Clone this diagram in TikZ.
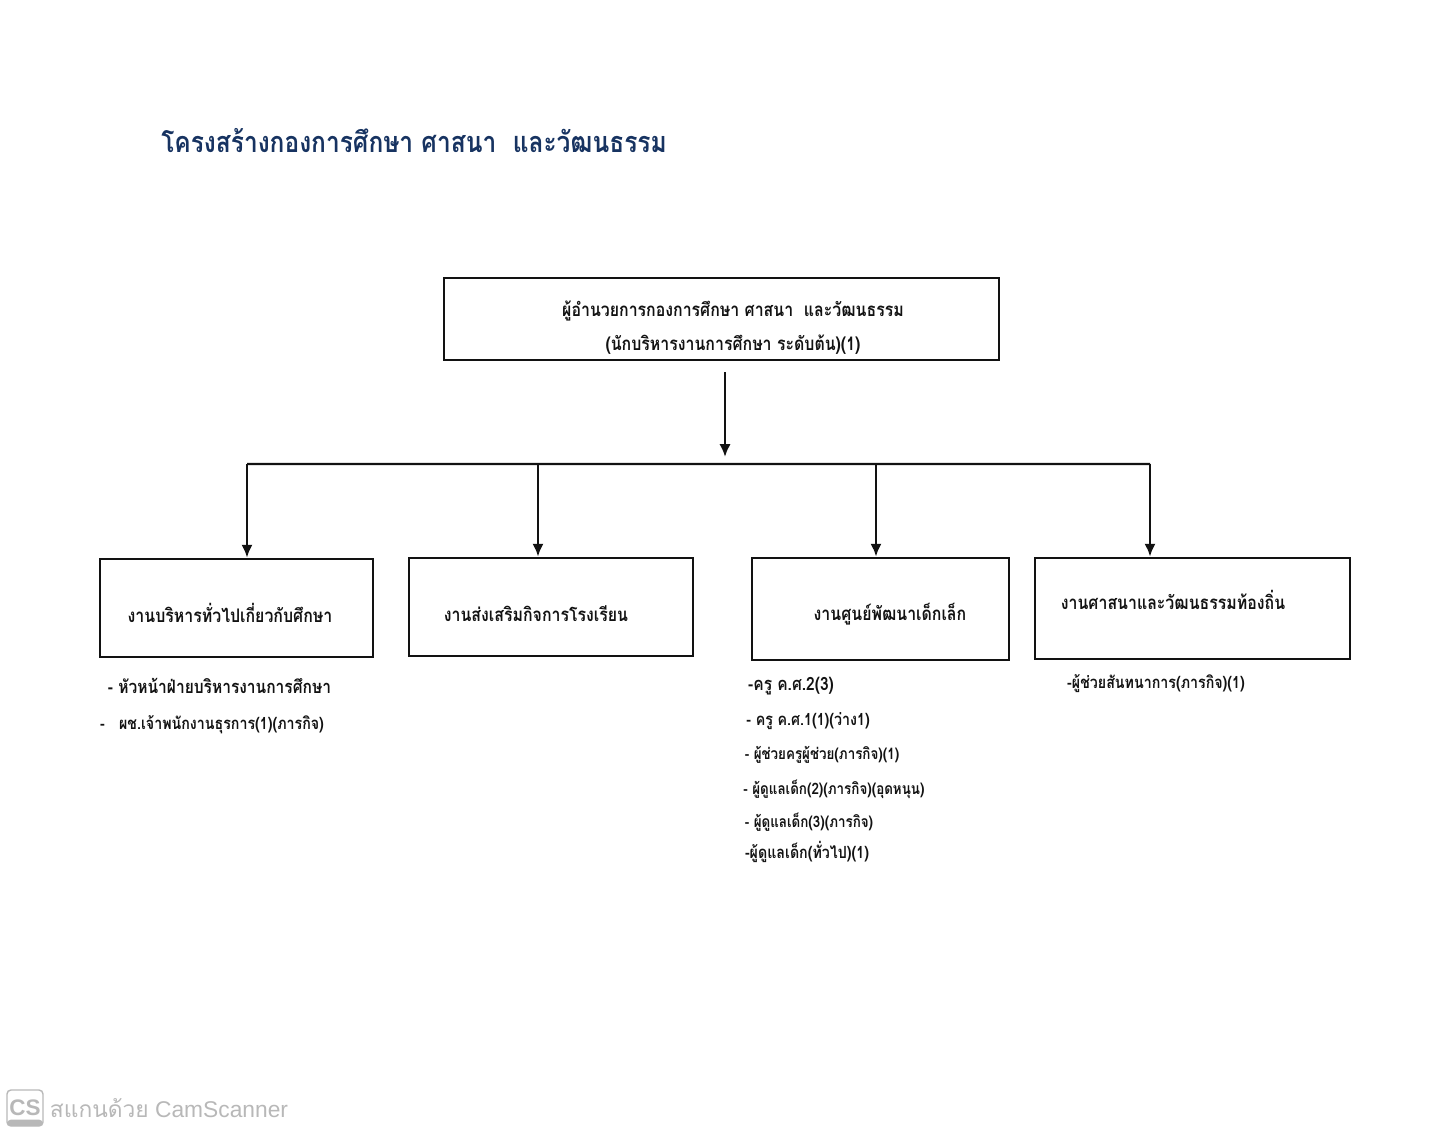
\documentclass[tikz,border=0pt]{standalone}
\usepackage{fontspec}
\usetikzlibrary{arrows.meta}
\setmainfont{Liberation Sans}
\newfontfamily\thaifont[Script=Thai,FakeStretch=0.85]{Loma}
\newfontfamily\csfont[Script=Thai]{Loma}
\definecolor{titlec}{rgb}{0.09,0.2,0.38}
\definecolor{inkc}{rgb}{0.07,0.07,0.07}
\definecolor{csc}{rgb}{0.72,0.72,0.72}
\begin{document}
\begin{tikzpicture}[>={Latex[length=3.2mm,width=2.8mm]}, block/.style={rectangle, draw=inkc, line width=2pt}, boxtext/.style={color=inkc, font=\thaifont\bfseries\fontsize{13.3}{24}\selectfont, align=center}, itemtext/.style={color=inkc, font=\thaifont\bfseries\fontsize{11.9}{13}\selectfont}, itemsmall/.style={color=inkc, font=\thaifont\bfseries\fontsize{11.2}{13}\selectfont}, itembig/.style={color=inkc, font=\thaifont\bfseries\fontsize{13}{15}\selectfont}, link/.style={draw=inkc, line width=1.7pt}]

    \useasboundingbox (0,0) rectangle (360mm,-284mm);
    \node[coordinate] (origin) {};
    \node[color=titlec, font=\thaifont\bfseries\fontsize{20.5}{25}\selectfont, right of=origin, node distance=103.5mm, yshift=-35.25mm] (title) {โครงสร้างกองการศึกษา ศาสนา\ \ และวัฒนธรรม};

    \node[block, minimum width=138.75mm, minimum height=20.5mm, below of=title, node distance=44.5mm, xshift=76.875mm] (dirbox) {};
    \node[block, minimum width=71mm, minimum height=24.5mm, below of=dirbox, node distance=72mm, xshift=-42.625mm] (boxb) {};
    \node[block, minimum width=68.25mm, minimum height=24.5mm, left of=boxb, node distance=78.625mm, yshift=-0.25mm] (boxa) {};
    \node[block, minimum width=64.25mm, minimum height=25.5mm, right of=boxb, node distance=82.375mm, yshift=-0.5mm] (boxc) {};
    \node[block, minimum width=78.75mm, minimum height=25.25mm, right of=boxc, node distance=78mm, yshift=0.125mm] (boxd) {};

    % box texts
    \node[boxtext, right of=dirbox, node distance=2.875mm, yshift=-2.25mm] (dirtext) {ผู้อำนวยการกองการศึกษา ศาสนา\ \ และวัฒนธรรม\\(นักบริหารงานการศึกษา ระดับต้น)(1)};
    \node[boxtext, left of=boxa, node distance=1.625mm, yshift=-1.25mm] (texta) {งานบริหารทั่วไปเกี่ยวกับศึกษา};
    \node[boxtext, left of=boxb, node distance=3.75mm, yshift=-1.75mm] (textb) {งานส่งเสริมกิจการโรงเรียน};
    \node[boxtext, right of=boxc, node distance=2.375mm, yshift=-1.25mm] (textc) {งานศูนย์พัฒนาเด็กเล็ก};
    \node[boxtext, left of=boxd, node distance=4.875mm, yshift=2.125mm] (textd) {งานศาสนาและวัฒนธรรมท้องถิ่น};

    % lists below the boxes
    \node[itembig, below of=boxa, node distance=19.5mm, xshift=-4.25mm] (itema1) {- หัวหน้าฝ่ายบริหารงานการศึกษา};
    \node[itemtext, below of=itema1, node distance=9.75mm, xshift=-1.875mm] (itema2) {-\ \ \ ผช.เจ้าพนักงานธุรการ(1)(ภารกิจ)};
    \node[itembig, below of=boxc, node distance=19.25mm, xshift=-22.375mm] (itemc1) {-ครู ค.ศ.2(3)};
    \node[itemtext, below of=itemc1, node distance=8.75mm, xshift=4.25mm] (itemc2) {- ครู ค.ศ.1(1)(ว่าง1)};
    \node[itemsmall, below of=itemc2, node distance=8.5mm, xshift=3.5mm] (itemc3) {- ผู้ช่วยครูผู้ช่วย(ภารกิจ)(1)};
    \node[itemsmall, below of=itemc3, node distance=8.5mm, xshift=3mm] (itemc4) {- ผู้ดูแลเด็ก(2)(ภารกิจ)(อุดหนุน)};
    \node[itemsmall, below of=itemc4, node distance=8.25mm, xshift=-6.25mm] (itemc5) {- ผู้ดูแลเด็ก(3)(ภารกิจ)};
    \node[itemtext, below of=itemc5, node distance=7.5mm, xshift=-0.5mm] (itemc6) {-ผู้ดูแลเด็ก(ทั่วไป)(1)};
    \node[itemtext, below of=boxd, node distance=18.75mm, xshift=-9.125mm] (itemd1) {-ผู้ช่วยสันทนาการ(ภารกิจ)(1)};

    % connector ends
    \node[coordinate, below of=dirbox, node distance=13.25mm, xshift=0.875mm] (arrowtop) {};
    \node[coordinate, below of=arrowtop, node distance=21.25mm] (arrowend) {};
    \node[coordinate, above of=boxa, node distance=36mm, xshift=2.625mm] (busa) {};
    \node[coordinate, above of=boxb, node distance=35.75mm, xshift=-3.25mm] (busb) {};
    \node[coordinate, above of=boxc, node distance=36.25mm, xshift=-1.125mm] (busc) {};
    \node[coordinate, above of=boxd, node distance=36.125mm, xshift=-10.625mm] (busd) {};

    \draw[->, link] (arrowtop) -- (arrowend);
    \draw[link] (busa) -- (busd);
    \draw[->, link] (busa) -- (busa |- boxa.north);
    \draw[->, link] (busb) -- (busb |- boxb.north);
    \draw[->, link] (busc) -- (busc |- boxc.north);
    \draw[->, link] (busd) -- (busd |- boxd.north);

    % scanner mark
    \node[rectangle, draw=csc, line width=1pt, rounded corners=1mm, minimum size=9mm, inner sep=0pt, color=csc, font=\bfseries\fontsize{16}{18}\selectfont, right of=origin, node distance=6.25mm, yshift=-277mm, path picture={\fill[csc] (path picture bounding box.south west) rectangle ([yshift=1.6mm]path picture bounding box.south east);}] (cslogo) {CS};
    \node[color=csc, font=\fontsize{16.2}{19}\selectfont, right of=cslogo, node distance=36mm] (cstext) {{\csfont สแกนด้วย} CamScanner};

  \end{tikzpicture}
\end{document}
